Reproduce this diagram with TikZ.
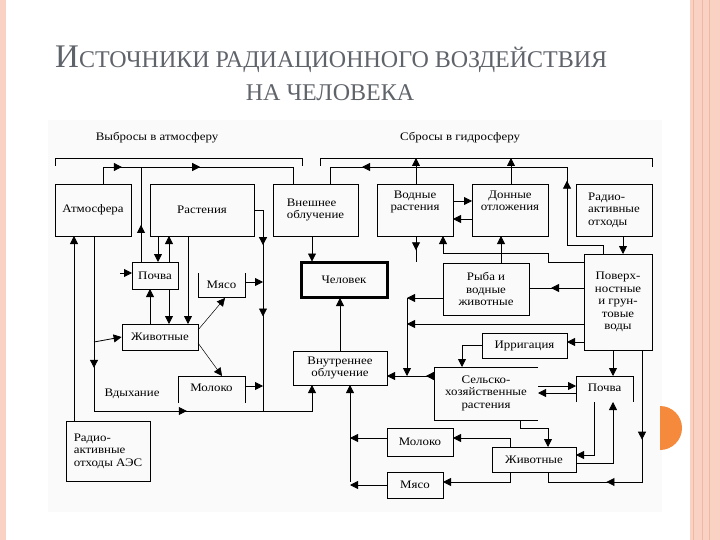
\documentclass[tikz,border=0pt]{standalone}
\usepackage{fontspec}
\setmainfont{Liberation Serif}
\usetikzlibrary{arrows.meta,decorations.markings}
\definecolor{pinkb}{HTML}{F9D2C4}
\definecolor{pinkd}{HTML}{EFB7A4}
\definecolor{titlec}{HTML}{5F636A}
\definecolor{orng}{HTML}{F58A3C}
\begin{document}
\begin{tikzpicture}[x=1pt,y=-1pt,
  box/.style={draw,line width=0.8pt,align=center,inner sep=1pt,font=\fontsize{11.5}{12.5}\selectfont\addfontfeature{FakeStretch=1.12}},
  txt/.style={align=center,inner sep=1pt,font=\fontsize{11.5}{12.5}\selectfont\addfontfeature{FakeStretch=1.12}},
  ln/.style={line width=0.8pt},
  ea/.style={ln,-{Triangle[length=8pt,width=8pt]}},
  m/.style={postaction={decorate,decoration={markings,mark=at position #1 with {\arrow{Triangle[length=8pt,width=8pt]}}}}}]
\useasboundingbox (0,0) rectangle (720,540);
\fill[white] (0,0) rectangle (720,540);
\fill[pinkb] (0,0) rectangle (6,540);
\fill[pinkb] (690,0) rectangle (720,540);
\foreach \xx in {693,702,709} \draw[pinkd,line width=1pt] (\xx,0)--(\xx,540);
\fill[gray!4] (48,120) rectangle (662,512);
\fill[orng] (660,450) arc (90:-90:22) -- cycle;
% title
\node[anchor=base west,text=titlec,inner sep=0] (t1) at (55,68) {\fontsize{33}{35}\selectfont И\fontsize{24}{26}\selectfont СТОЧНИКИ РАДИАЦИОННОГО ВОЗДЕЙСТВИЯ};
\node[anchor=base,text=titlec,inner sep=0] (t2) at (330,101) {\fontsize{24}{26}\selectfont НА ЧЕЛОВЕКА};
% labels
\node[txt] (lab1) at (157,138) {Выбросы в атмосферу};
\node[txt] (lab2) at (460,138) {Сбросы в гидросферу};
\node[txt] (lab3) at (132,394) {Вдыхание};
% boxes
\node[box,minimum width=76,minimum height=52] (atm) at (93,210) {Атмосфера};
\node[box,minimum width=104,minimum height=52] (rast) at (202,210) {Растения};
\node[box,minimum width=85,minimum height=52,align=left] (vnesh) at (315.5,210) {Внешнее\\облучение};
\node[box,minimum width=76,minimum height=52] (vodr) at (415,210) {Водные\\растения\\[6pt]};
\node[box,minimum width=76,minimum height=52] (donn) at (510,210) {Донные\\отложения\\[6pt]};
\node[box,minimum width=76,minimum height=52,align=left] (rao) at (614,210) {Радио-\\активные\\отходы};
\node[box,minimum width=68,minimum height=96] (pover) at (618,302) {Поверх-\\ностные\\и грун-\\товые\\воды};
\node[box,minimum width=86,minimum height=52] (ryba) at (486,289) {Рыба и\\водные\\животные};
\node[box,line width=3pt,minimum width=86,minimum height=35] (chel) at (344,279.5) {Человек};
\node[box,minimum width=94,minimum height=34] (vnutr) at (340,368) {Внутреннее\\облучение};
\node[box,minimum width=85,minimum height=25] (irr) at (524.5,345.5) {Ирригация};
\node[txt] (selh) at (486,393) {Сельско-\\хозяйственные\\растения};
\draw[ln] (538,367)--(434,367)--(434,420)--(538,420);
\node[txt] (pochR) at (604.5,388) {Почва};
\draw[ln] (576,402)--(576,376)--(633,376)--(633,402);
\node[box,minimum width=84,minimum height=25] (zhivR) at (534,459.5) {Животные};
\node[box,minimum width=66,minimum height=28] (molR) at (420,442) {Молоко};
\node[box,minimum width=56,minimum height=26] (myasR) at (415,485) {Мясо};
\node[box,minimum width=84,minimum height=60,align=left] (raoAES) at (108,451) {Радио-\\активные\\отходы АЭС};
\node[txt] (molL) at (211.5,388) {Молоко};
\draw[ln] (178,403)--(178,376)--(245,376)--(245,403);
\node[box,minimum width=76,minimum height=26] (zhivL) at (160,337) {Животные};
\node[txt] (myasL) at (221.5,285) {Мясо};
\draw[ln] (198,273)--(198,297)--(245,297)--(245,273);
\node[box,minimum width=46,minimum height=27] (pochL) at (155,275.5) {Почва};
\coordinate (j1) at (94,411);
\coordinate (j2) at (263,411);
\coordinate (j3) at (407,376);
% brackets
\draw[ln] (55,166)--(55,158)--(302,158)--(302,166);
\draw[ln] (320,166)--(320,158)--(652,158)--(652,167);
% left part
\draw[ln,m=0.16,m=0.51] (103,184)--(103,167)--(293,167)--(293,184);
\draw[ln,m=0.39] (141,262)--(141,167);
\draw[ea] (raoAES.north -| 74,0)--(74,236);
\draw[ln,m=0.32,m=0.65] (94,236)--(j1)--(312,411)--(312,392);
\draw[ea] (312,405)--(312,385);
\draw[ea] (94,342)--(zhivL.west);
\draw[ea] (158,236)--(158,262);
\draw[ea] (169,262)--(169,236);
\draw[ea] (169,289)--(169,324);
\draw[ea] (150,324)--(150,289);
\draw[ea] (188,236)--(188,324);
\draw[ln,m=0.21,m=0.55] (254,210)--(263,210)--(j2);
\draw[-{Triangle[length=8pt,width=8pt]},line width=0.5pt] (198,330)--(225,298);
\draw[-{Triangle[length=8pt,width=8pt]},line width=0.5pt] (198,343)--(222,376);
\draw[ea] (245,282)--(263,282);
\draw[ea] (245,386)--(263,386);
\draw[ea] (120,273)--(132,273);
% center
\draw[ea] (312,236)--(312,261.5);
\draw[ea] (vnutr.north -| 340,0)--(340,298);
\draw[ea] (350,482)--(350,385);
\draw[ea] (387,438)--(350,438);
\draw[ea] (387,485)--(350,485);
% right part
\draw[ln,m=0.29,m=0.87] (603,254)--(603,245)--(567,245)--(567,167)--(330,167)--(330,184);
\draw[ea] (416,184)--(416,158);
\draw[ea] (511,184)--(511,158);
\draw[ea] (453,201)--(472,201);
\draw[ea] (472,219)--(453,219);
\draw[ea] (623,236)--(623,254);
\draw[ln,m=0.55] (416,236)--(416,262);
\draw[ea] (584,262)--(548,262)--(548,253)--(443,253)--(443,236);
\draw[ea] (501,263)--(501,236);
\draw[ln,m=0.6] (584,288)--(529,288);
\draw[ea] (443,298)--(407,298);
\draw[ea] (407,298)--(j3);
\draw[ea] (584,324)--(407,324);
\draw[ea] (584,342)--(567,342);
\draw[ea] (482,345)--(462,345)--(462,367);
\draw[ln,m=0.3] (434,376)--(j3);
\draw[ea] (j3)--(387,376);
\draw[ea] (613,350)--(613,376);
\draw[ea] (538,386)--(576,386);
\draw[ea] (576,393)--(538,393);
\draw[ln,m=0.38,m=0.71] (642,350)--(642,482)--(548,482)--(548,472);
\draw[ea] (520,420)--(520,428)--(548,428)--(548,447);
\draw[ea] (594,402)--(594,455)--(576,455);
\draw[ea] (576,463)--(613,463)--(613,402);
\draw[ea] (510,447)--(510,438)--(453,438);
\draw[ea] (510,472)--(510,482)--(443,482);
\end{tikzpicture}
\end{document}
